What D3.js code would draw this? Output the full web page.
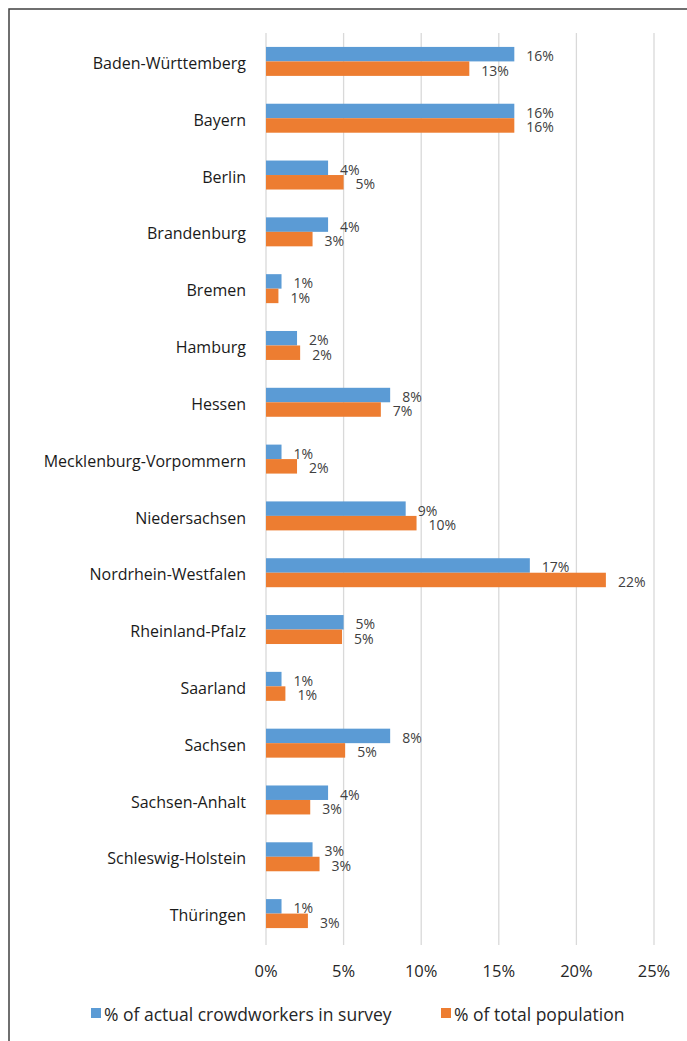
<!DOCTYPE html>
<html>
<head>
<meta charset="utf-8">
<script src="https://cdn.jsdelivr.net/npm/d3@7"></script>
<style>
  body { margin: 0; background: #fff; }
  svg text { font-family: "Open Sans", sans-serif; }
</style>
</head>
<body>
<svg id="chart" width="687" height="1041"></svg>
<script>
// data (percent)
const states = [
  "Baden-Württemberg", "Bayern", "Berlin", "Brandenburg", "Bremen", "Hamburg",
  "Hessen", "Mecklenburg-Vorpommern", "Niedersachsen", "Nordrhein-Westfalen",
  "Rheinland-Pfalz", "Saarland", "Sachsen", "Sachsen-Anhalt",
  "Schleswig-Holstein", "Thüringen"
];
const crowdworkers = [16, 16, 4, 4, 1, 2, 8, 1, 9, 17, 5, 1, 8, 4, 3, 1];
const population = [13.1, 16, 5, 3, 0.8, 2.2, 7.4, 2, 9.7, 21.9, 4.9, 1.25, 5.1, 2.85, 3.45, 2.7];
const ticks = [0, 5, 10, 15, 20, 25];
const seriesNames = ["% of actual crowdworkers in survey", "% of total population"];

const COLORS = { BLUE: "#5b9bd5", ORANGE: "#ed7d31", GRID: "#d9d9d9", TEXT: "#404040" };

const svg = d3.select("#chart");

// outer frame (right/bottom edges fall outside the picture)
svg.append("rect")
  .attr("x", 9).attr("y", 9)
  .attr("width", 700).attr("height", 1060)
  .attr("fill", "none")
  .attr("stroke", "#404040")
  .attr("stroke-width", 1.5);

const x = d3.scaleLinear().domain([0, 25]).range([266, 654]);
const y = d3.scaleBand().domain(states).range([33, 942]).padding(0);
const barH = y.bandwidth() * 0.255;

// **1. gridlines**
svg.append("g")
  .selectAll("line")
  .data(ticks)
  .enter()
  .append("line")
  .attr("x1", (d) => x(d)).attr("x2", (d) => x(d))
  .attr("y1", 33).attr("y2", 945)
  .attr("stroke", COLORS.GRID)
  .attr("stroke-width", 1.3);

// **2. tick labels**
svg.append("g")
  .selectAll("text")
  .data(ticks)
  .enter()
  .append("text")
  .attr("x", (d) => x(d))
  .attr("y", 977)
  .attr("text-anchor", "middle")
  .attr("font-size", 16.5)
  .attr("fill", "#262626")
  .text((d) => `${d}%`);

// **3. category labels**
svg.append("g")
  .selectAll("text")
  .data(states)
  .enter()
  .append("text")
  .attr("x", 246)
  .attr("y", (d) => y(d) + y.bandwidth() / 2 + 2)
  .attr("dy", "0.35em")
  .attr("text-anchor", "end")
  .attr("font-size", 16)
  .attr("fill", "#1a1a1a")
  .text((d) => d);

// **4. bars + value labels**
const series = [
  { values: crowdworkers, color: COLORS.BLUE, offset: -1 },
  { values: population, color: COLORS.ORANGE, offset: 0 }
];

series.forEach((s) => {
  const g = svg.append("g");
  g.selectAll("rect")
    .data(states)
    .enter()
    .append("rect")
    .attr("x", x(0))
    .attr("y", (d) => y(d) + y.bandwidth() / 2 + s.offset * barH)
    .attr("width", (d, i) => x(s.values[i]) - x(0))
    .attr("height", barH)
    .attr("fill", s.color);

  g.selectAll("text")
    .data(states)
    .enter()
    .append("text")
    .attr("x", (d, i) => x(s.values[i]) + 12)
    .attr("y", (d) => y(d) + y.bandwidth() / 2 + s.offset * barH + barH / 2 + 2)
    .attr("dy", "0.35em")
    .attr("font-size", 14)
    .attr("fill", COLORS.TEXT)
    .text((d, i) => `${Math.round(s.values[i])}%`);
});

// **5. legend**
const legendItems = [
  { name: seriesNames[0], color: COLORS.BLUE, x: 91 },
  { name: seriesNames[1], color: COLORS.ORANGE, x: 441 }
];
const legend = svg.append("g");
legendItems.forEach((d) => {
  legend.append("rect")
    .attr("x", d.x).attr("y", 1008)
    .attr("width", 10).attr("height", 10)
    .attr("fill", d.color);
  legend.append("text")
    .attr("x", d.x + 13)
    .attr("y", 1021)
    .attr("font-size", 17.5)
    .attr("fill", "#262626")
    .text(d.name);
});
</script>
</body>
</html>
